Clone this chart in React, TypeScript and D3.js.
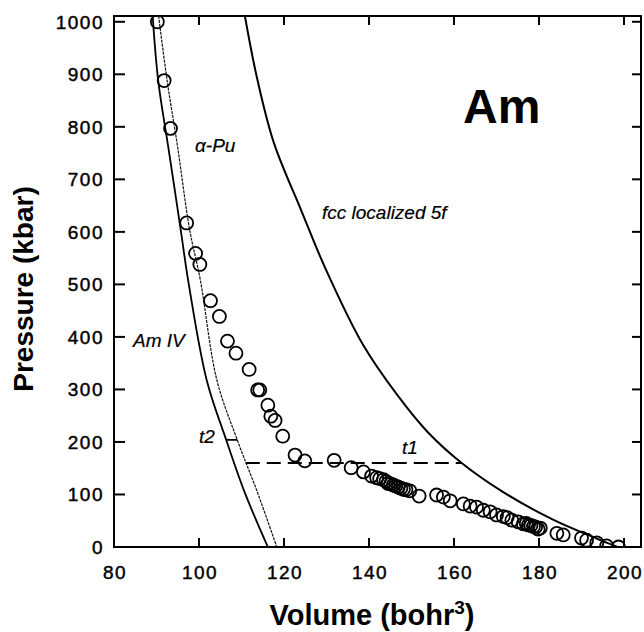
import React from "react";
import * as d3 from "d3";

// ---- data (Volume in bohr^3, Pressure in kbar) ----
const xTicks = [80, 100, 120, 140, 160, 180, 200];
const yTicks = [0, 100, 200, 300, 400, 500, 600, 700, 800, 900, 1000];

// Am IV calculated curve (solid)
const amIVVol = [89.1, 90.4, 92.8, 95.7, 97.5, 101.8, 106.4, 110.8, 116.2];
const amIVP = [1011, 888, 760, 604, 505, 318, 204, 103, 0];

// alpha-Pu calculated curve (thin dotted)
const aPuVol = [90.5, 92.5, 95.0, 97.8, 100.3, 104.2, 109.0, 113.8, 118.3];
const aPuP = [1011, 888, 760, 604, 509, 318, 204, 103, 0];

// fcc localized 5f curve
const fccVol = [110.8, 113.6, 117.6, 124.0, 129.6, 138.6, 146.6, 153.9, 161.8, 171.5, 183.3, 193.6, 198.5];
const fccP = [1011, 895, 770, 642, 533, 385, 290, 218, 160, 105, 52, 16, 0];

// measured points (circles)
const expVol = [
  90.2, 91.8, 93.3, 97.1, 99.2, 100.2, 102.7, 104.8, 106.7, 108.7, 111.8, 113.8, 114.3,
  116.2, 116.9, 117.9, 119.7, 122.6, 124.9, 131.8, 135.8, 138.7, 140.6, 141.8, 142.5,
  143.4, 144.0, 144.5, 145.1, 145.7, 146.3, 146.9, 147.5, 148.1, 148.7, 149.6, 151.8,
  155.9, 157.5, 159.1, 162.2, 163.8, 165.3, 166.9, 168.5, 170.0, 171.6, 172.5, 173.6,
  175.1, 176.3, 177.0, 177.5, 178.1, 178.7, 179.2, 179.8, 180.3, 184.2, 185.7, 190.0,
  191.2, 193.6, 195.9, 198.7,
];
const expP = [
  1000, 888, 797, 617, 559, 538, 469, 439, 392, 369, 338, 299, 299,
  270, 249, 241, 211, 175, 164, 165, 151, 143, 135, 132, 130,
  128, 125, 121, 120, 118, 116, 114, 112, 110, 109, 107, 97,
  99, 95, 88, 82, 78, 76, 70, 67, 61, 58, 56, 51,
  48, 44, 45, 42, 41, 39, 38, 34, 36, 26, 23, 17,
  13, 8, 2, 0,
];

// transition lines
const t1P = 160;
const t1Vol = [111.0, 161.8];
const t2P = 204;
const t2Vol = [106.4, 109.0];

const W = 644;
const H = 632;
const FONT = "'Liberation Sans', Arial, Helvetica, sans-serif";

export default function App() {
  const x = d3.scaleLinear().domain([80, 204]).range([114, 641]);
  const y = d3.scaleLinear().domain([0, 1011]).range([547, 16]);
  const [x0, x1] = x.range();
  const [y0, y1] = y.range();

  const line = d3
    .line<[number, number]>()
    .x((d) => x(d[0]))
    .y((d) => y(d[1]))
    .curve(d3.curveCatmullRom.alpha(0.5));

  const zip = (a: number[], b: number[]) => a.map((v, i) => [v, b[i]] as [number, number]);

  const tickLen = 9;
  const tickStyle = {
    fontFamily: FONT,
    fontSize: 19,
    letterSpacing: 1.5,
    stroke: "#000",
    strokeWidth: 0.45,
  } as const;
  const labelStyle = { fontFamily: FONT, fontSize: 19, fontStyle: "italic", stroke: "#000", strokeWidth: 0.2 } as const;

  return (
    <svg
      width={W}
      height={H}
      style={{ position: "absolute", left: 0, top: 0, display: "block", background: "#fff" }}
    >
      <defs>
        <clipPath id="plot">
          <rect x={x0} y={y1} width={x1 - x0} height={y0 - y1} />
        </clipPath>
      </defs>
      <rect x={0} y={0} width={W} height={H} fill="#fff" />

      <g clipPath="url(#plot)" fill="none" stroke="#000">
        <path d={line(zip(amIVVol, amIVP)) || ""} strokeWidth={1.8} />
        <path d={line(zip(aPuVol, aPuP)) || ""} strokeWidth={1.2} strokeDasharray="3,1" stroke="#111" />
        <path d={line(zip(fccVol, fccP)) || ""} strokeWidth={2} />
        <line x1={x(t1Vol[0])} x2={x(t1Vol[1])} y1={y(t1P)} y2={y(t1P)} strokeWidth={2} strokeDasharray="14,7" />
        <line x1={x(t2Vol[0])} x2={x(t2Vol[1])} y1={y(t2P)} y2={y(t2P)} strokeWidth={1.8} />
        {expVol.map((v, i) => (
          <circle key={i} cx={x(v)} cy={y(expP[i])} r={6.5} strokeWidth={1.8} />
        ))}
      </g>

      {/* frame */}
      <rect x={x0} y={y1} width={x1 - x0} height={y0 - y1} fill="none" stroke="#000" strokeWidth={2} />

      {/* x ticks (bottom and top, inward) */}
      {xTicks.map((t) => (
        <g key={"x" + t}>
          <line x1={x(t)} x2={x(t)} y1={y0} y2={y0 - tickLen} stroke="#000" strokeWidth={2} />
          <line x1={x(t)} x2={x(t)} y1={y1} y2={y1 + tickLen} stroke="#000" strokeWidth={2} />
          <text x={x(t) + 1} y={579} textAnchor="middle" {...tickStyle}>
            {t}
          </text>
        </g>
      ))}

      {/* y ticks (left and right, inward) */}
      {yTicks.map((t) => (
        <g key={"y" + t}>
          <line x1={x0} x2={x0 + tickLen + 2} y1={y(t)} y2={y(t)} stroke="#000" strokeWidth={2} />
          <line x1={x1} x2={x1 - tickLen} y1={y(t)} y2={y(t)} stroke="#000" strokeWidth={2} />
          <text x={104} y={y(t) + 7} textAnchor="end" {...tickStyle}>
            {t}
          </text>
        </g>
      ))}

      {/* axis titles */}
      <text
        transform={`translate(33, 289) rotate(-90)`}
        textAnchor="middle"
        fontFamily={FONT}
        fontWeight="bold"
        fontSize={28}
      >
        Pressure (kbar)
      </text>
      <text x={372} y={625} textAnchor="middle" fontFamily={FONT} fontWeight="bold" fontSize={29}>
        Volume (bohr
        <tspan fontSize={19} dy={-11}>3</tspan>
        <tspan dy={11}>)</tspan>
      </text>

      {/* annotations */}
      <text x={463} y={123} fontFamily={FONT} fontWeight="bold" fontSize={48}>
        Am
      </text>
      <text x={195} y={152} {...labelStyle}>
        α-Pu
      </text>
      <text x={322} y={219} {...labelStyle}>
        fcc localized 5f
      </text>
      <text x={133} y={347} {...labelStyle}>
        Am IV
      </text>
      <text x={199} y={443} {...labelStyle}>
        t2
      </text>
      <text x={402} y={454} {...labelStyle}>
        t1
      </text>
    </svg>
  );
}
